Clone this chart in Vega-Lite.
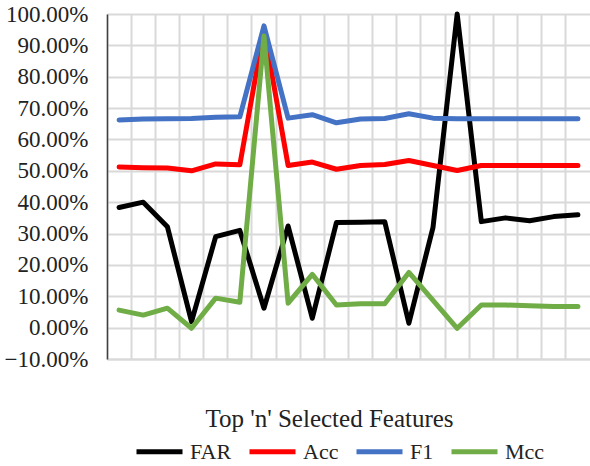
{
  "$schema": "https://vega.github.io/schema/vega-lite/v6.json",
  "autosize": {"type": "none"},
  "padding": {"left": 107, "top": 14, "right": 0, "bottom": 107},
  "width": 483,
  "height": 345,
  "background": "white",
  "config": {
    "view": {"stroke": null},
    "font": "Liberation Serif"
  },
  "data": {
    "values": [
      {"n": 1, "metric": "FAR", "v": 0.383}, {"n": 2, "metric": "FAR", "v": 0.400}, {"n": 3, "metric": "FAR", "v": 0.322}, {"n": 4, "metric": "FAR", "v": 0.019}, {"n": 5, "metric": "FAR", "v": 0.290},
      {"n": 6, "metric": "FAR", "v": 0.310}, {"n": 7, "metric": "FAR", "v": 0.062}, {"n": 8, "metric": "FAR", "v": 0.324}, {"n": 9, "metric": "FAR", "v": 0.030}, {"n": 10, "metric": "FAR", "v": 0.335},
      {"n": 11, "metric": "FAR", "v": 0.336}, {"n": 12, "metric": "FAR", "v": 0.338}, {"n": 13, "metric": "FAR", "v": 0.014}, {"n": 14, "metric": "FAR", "v": 0.320}, {"n": 15, "metric": "FAR", "v": 1.000},
      {"n": 16, "metric": "FAR", "v": 0.338}, {"n": 17, "metric": "FAR", "v": 0.350}, {"n": 18, "metric": "FAR", "v": 0.341}, {"n": 19, "metric": "FAR", "v": 0.354}, {"n": 20, "metric": "FAR", "v": 0.360},
      {"n": 1, "metric": "Acc", "v": 0.512}, {"n": 2, "metric": "Acc", "v": 0.510}, {"n": 3, "metric": "Acc", "v": 0.509}, {"n": 4, "metric": "Acc", "v": 0.500}, {"n": 5, "metric": "Acc", "v": 0.522},
      {"n": 6, "metric": "Acc", "v": 0.519}, {"n": 7, "metric": "Acc", "v": 0.950}, {"n": 8, "metric": "Acc", "v": 0.517}, {"n": 9, "metric": "Acc", "v": 0.528}, {"n": 10, "metric": "Acc", "v": 0.505},
      {"n": 11, "metric": "Acc", "v": 0.517}, {"n": 12, "metric": "Acc", "v": 0.520}, {"n": 13, "metric": "Acc", "v": 0.533}, {"n": 14, "metric": "Acc", "v": 0.517}, {"n": 15, "metric": "Acc", "v": 0.501},
      {"n": 16, "metric": "Acc", "v": 0.517}, {"n": 17, "metric": "Acc", "v": 0.517}, {"n": 18, "metric": "Acc", "v": 0.517}, {"n": 19, "metric": "Acc", "v": 0.517}, {"n": 20, "metric": "Acc", "v": 0.517},
      {"n": 1, "metric": "F1", "v": 0.662}, {"n": 2, "metric": "F1", "v": 0.665}, {"n": 3, "metric": "F1", "v": 0.666}, {"n": 4, "metric": "F1", "v": 0.667}, {"n": 5, "metric": "F1", "v": 0.671},
      {"n": 6, "metric": "F1", "v": 0.672}, {"n": 7, "metric": "F1", "v": 0.962}, {"n": 8, "metric": "F1", "v": 0.668}, {"n": 9, "metric": "F1", "v": 0.679}, {"n": 10, "metric": "F1", "v": 0.653},
      {"n": 11, "metric": "F1", "v": 0.665}, {"n": 12, "metric": "F1", "v": 0.667}, {"n": 13, "metric": "F1", "v": 0.682}, {"n": 14, "metric": "F1", "v": 0.668}, {"n": 15, "metric": "F1", "v": 0.666},
      {"n": 16, "metric": "F1", "v": 0.666}, {"n": 17, "metric": "F1", "v": 0.666}, {"n": 18, "metric": "F1", "v": 0.666}, {"n": 19, "metric": "F1", "v": 0.666}, {"n": 20, "metric": "F1", "v": 0.666},
      {"n": 1, "metric": "Mcc", "v": 0.056}, {"n": 2, "metric": "Mcc", "v": 0.040}, {"n": 3, "metric": "Mcc", "v": 0.062}, {"n": 4, "metric": "Mcc", "v": -0.002}, {"n": 5, "metric": "Mcc", "v": 0.094},
      {"n": 6, "metric": "Mcc", "v": 0.081}, {"n": 7, "metric": "Mcc", "v": 0.930}, {"n": 8, "metric": "Mcc", "v": 0.078}, {"n": 9, "metric": "Mcc", "v": 0.170}, {"n": 10, "metric": "Mcc", "v": 0.072},
      {"n": 11, "metric": "Mcc", "v": 0.076}, {"n": 12, "metric": "Mcc", "v": 0.076}, {"n": 13, "metric": "Mcc", "v": 0.176}, {"n": 14, "metric": "Mcc", "v": 0.087}, {"n": 15, "metric": "Mcc", "v": -0.002},
      {"n": 16, "metric": "Mcc", "v": 0.072}, {"n": 17, "metric": "Mcc", "v": 0.072}, {"n": 18, "metric": "Mcc", "v": 0.070}, {"n": 19, "metric": "Mcc", "v": 0.067}, {"n": 20, "metric": "Mcc", "v": 0.067}
    ]
  },
  "mark": {"type": "line", "strokeWidth": 5, "strokeJoin": "round", "strokeCap": "round"},
  "encoding": {
    "x": {
      "field": "n",
      "type": "ordinal",
      "scale": {"type": "band", "paddingInner": 0, "paddingOuter": 0},
      "axis": {
        "title": "Top 'n' Selected Features",
        "titleFont": "Liberation Serif",
        "titleFontSize": 25,
        "titleFontWeight": "normal",
        "titleColor": "#222222",
        "titleX": 222,
        "titleY": 67,
        "titleAlign": "center",
        "titleBaseline": "alphabetic",
        "labels": false,
        "ticks": false,
        "grid": true,
        "bandPosition": 0,
        "gridColor": "#d9d9d9",
        "gridWidth": 2,
        "domain": true,
        "domainColor": "#d9d9d9",
        "domainWidth": 2
      }
    },
    "y": {
      "field": "v",
      "type": "quantitative",
      "scale": {"domain": [-0.1, 1.0], "nice": false, "zero": false},
      "axis": {
        "title": null,
        "format": ".2%",
        "values": [-0.1, 0, 0.1, 0.2, 0.3, 0.4, 0.5, 0.6, 0.7, 0.8, 0.9, 1.0],
        "labelFont": "Liberation Serif",
        "labelFontSize": 23,
        "labelColor": "#222222",
        "labelPadding": 19,
        "ticks": false,
        "grid": true,
        "gridColor": "#d9d9d9",
        "gridWidth": 2,
        "domain": true,
        "domainColor": "#404040",
        "domainWidth": 1.5
      }
    },
    "color": {
      "field": "metric",
      "type": "nominal",
      "scale": {"domain": ["FAR", "Acc", "F1", "Mcc"], "range": ["#000000", "#ff0000", "#4472c4", "#70ad47"]},
      "legend": {
        "title": null,
        "orient": "none",
        "direction": "horizontal",
        "legendX": 27,
        "legendY": 412,
        "symbolType": "stroke",
        "symbolSize": 2116,
        "symbolStrokeWidth": 5,
        "labelFont": "Liberation Serif",
        "labelFontSize": 22,
        "labelColor": "#222222",
        "labelOffset": 5,
        "columnPadding": 7
      }
    }
  }
}
